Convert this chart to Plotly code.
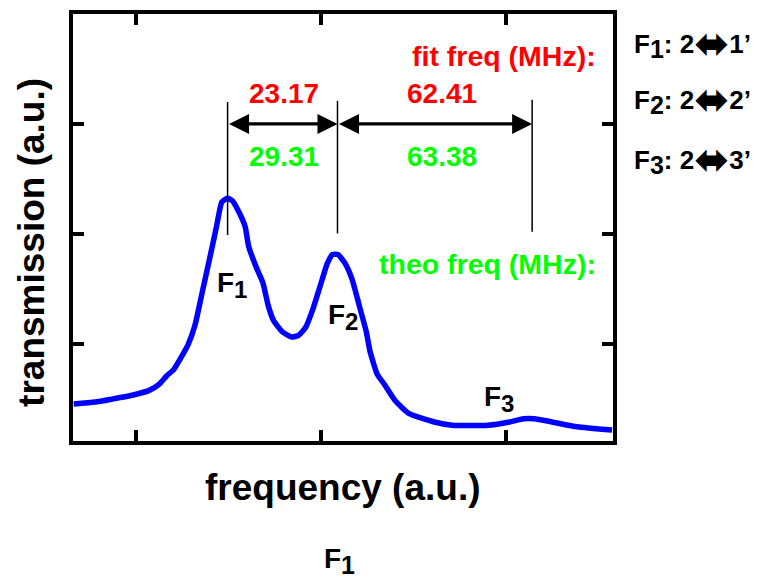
import plotly.graph_objects as go

# ---- data (arbitrary units) ----
freq = [0.663, 0.779, 0.876, 0.972, 1.069, 1.126, 1.165, 1.204, 1.242, 1.281,
        1.319, 1.358, 1.397, 1.435, 1.464, 1.494, 1.522, 1.561, 1.590, 1.609,
        1.648, 1.686, 1.715, 1.744, 1.792, 1.841, 1.879, 1.918, 1.956, 1.995,
        2.034, 2.062, 2.091, 2.130, 2.168, 2.207, 2.245, 2.265, 2.304, 2.342,
        2.400, 2.477, 2.612, 2.709, 2.902, 3.018, 3.095, 3.153, 3.249, 3.384,
        3.573]
trans = [0.454, 0.471, 0.500, 0.531, 0.575, 0.634, 0.708, 0.768, 0.872, 0.991,
         1.172, 1.470, 1.768, 2.066, 2.290, 2.325, 2.300, 2.183, 2.066, 1.886,
         1.705, 1.555, 1.346, 1.211, 1.108, 1.063, 1.078, 1.154, 1.316, 1.524,
         1.732, 1.813, 1.813, 1.732, 1.587, 1.346, 1.108, 0.931, 0.723, 0.633,
         0.485, 0.365, 0.290, 0.260, 0.260, 0.290, 0.320, 0.320, 0.290, 0.246,
         0.216]

line_pos = [1.495, 2.089, 3.141]          # F1, F2, F3 marker lines
line_bottom = [1.99, 2.005, 2.02]
line_top = [3.20, 3.21, 3.22]
arrow_y = 3.0
fit_vals = ["23.17", "62.41"]
theo_vals = ["29.31", "63.38"]
peak_names = ["1", "2", "3"]
peak_label_x = [1.519, 2.119, 2.962]
peak_label_y = [1.532, 1.243, 0.495]
transition_lower = ["2", "2", "2"]
transition_upper = ["1’", "2’", "3’"]

FONT = "Liberation Sans, Arial, sans-serif"
BLACK = "#000000"
RED = "#ff0000"
GREEN = "#00ff00"

# body margin of the html page is 8px; compensate so plot area sits where the reference has it
PAGE_OFF = 8

fig = go.Figure()
fig.add_trace(go.Scatter(x=freq, y=trans, mode="lines",
                         line=dict(color="#0000ff", width=5.5, shape="spline", smoothing=0.5),
                         showlegend=False, hoverinfo="skip"))

for xv, yb, yt in zip(line_pos, line_bottom, line_top):
    fig.add_shape(type="line", xref="x", yref="y", x0=xv, x1=xv, y0=yb, y1=yt,
                  line=dict(color=BLACK, width=1.5))

annotations = []
for i in range(2):
    annotations.append(dict(x=line_pos[i + 1], y=arrow_y, ax=line_pos[i], ay=arrow_y,
                            xref="x", yref="y", axref="x", ayref="y", text="",
                            showarrow=True, arrowhead=2, startarrowhead=2,
                            arrowside="end+start", arrowwidth=3.2, arrowsize=1.25,
                            startarrowsize=1.25, arrowcolor=BLACK))


def ann(x, y, text, size, color=BLACK, xref="x", yref="y", xanchor="center", **kw):
    d = dict(x=x, y=y, xref=xref, yref=yref, text=text, showarrow=False,
             xanchor=xanchor, yanchor="middle",
             font=dict(family=FONT, size=size, color=color, weight="bold"))
    d.update(kw)
    return d


mid = [(line_pos[0] + line_pos[1]) / 2 + 0.01, (line_pos[1] + line_pos[2]) / 2 + 0.04]
for i in range(2):
    annotations.append(ann(mid[i], 3.279, fit_vals[i], 28, RED))
    annotations.append(ann(mid[i], 2.703, theo_vals[i], 28, GREEN))

annotations.append(ann(3.497, 3.622, "fit freq (MHz):", 28.5, RED, xanchor="right"))
annotations.append(ann(3.497, 1.730, "theo freq (MHz):", 28.5, GREEN, xanchor="right"))

for n, lx, ly in zip(peak_names, peak_label_x, peak_label_y):
    annotations.append(ann(lx, ly, f'F<sub><span style="font-size:24px">{n}</span></sub>', 28))

ARROW = '<sub><span style="font-family:DejaVu Sans;font-size:42px">⬌</span></sub>'
for n, lo, up, py in zip(peak_names, transition_lower, transition_upper, [40, 96, 157]):
    annotations.append(ann(1.035, (441 - py) / 431,
                           f'F<sub><span style="font-size:25px">{n}</span></sub>: {lo}{ARROW}{up}',
                           26, xref="paper", yref="paper", xanchor="left"))

annotations.append(ann(0.5, -0.109, "frequency (a.u.)", 37, xref="paper", yref="paper"))
annotations.append(ann(-0.078, 0.466, "transmission (a.u.)", 37, xref="paper", yref="paper",
                       textangle=-90))
annotations.append(ann(0.4926, -0.281, 'F<sub><span style="font-size:25px">1</span></sub>', 28,
                       xref="paper", yref="paper"))

axis_common = dict(showgrid=False, zeroline=False, showticklabels=False,
                   showline=True, linecolor=BLACK, linewidth=3.5, mirror="ticks",
                   ticks="inside", ticklen=11, tickwidth=3.5, tickcolor=BLACK)

fig.update_layout(
    width=773 - PAGE_OFF, height=579 - PAGE_OFF,
    margin=dict(l=73 - PAGE_OFF, r=160, t=10 - PAGE_OFF, b=138),
    paper_bgcolor="white", plot_bgcolor="white",
    xaxis=dict(range=[0.6595, 3.578], tickvals=[1, 2, 3], **axis_common),
    yaxis=dict(range=[0.117, 4.0], tickvals=[1, 2, 3], **axis_common),
    annotations=annotations,
    showlegend=False,
)

fig.write_html("out.html")
